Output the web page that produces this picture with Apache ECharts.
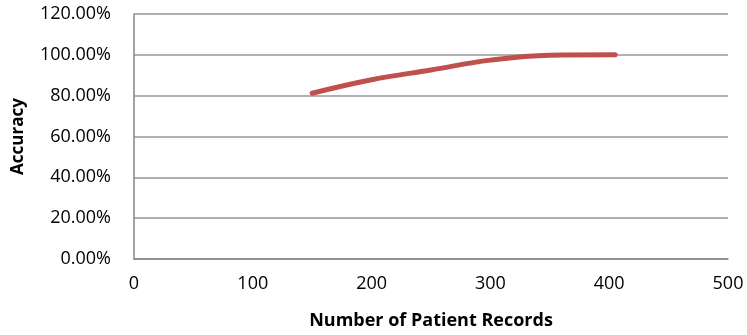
<!DOCTYPE html>
<html><head><meta charset="utf-8">
<script src="https://cdn.jsdelivr.net/npm/echarts@6/dist/echarts.min.js"></script>
<style>html,body{margin:0;padding:0;background:#fff}#c{width:747px;height:335px}</style>
</head><body><div id="c"></div>
<script>
const records = [150, 200, 250, 300, 350, 405];
const accuracy = [81.2, 87.8, 92.6, 97.4, 99.8, 100];
const xTicks = [0, 100, 200, 300, 400, 500];
const yTicks = [0, 20, 40, 60, 80, 100, 120];

const chart = echarts.init(document.getElementById('c'));
const font = 'Open Sans, Noto Sans, sans-serif';
chart.setOption({
  animation: false,
  grid: {left: 134, top: 14, right: 19, bottom: 75},
  xAxis: {
    type: 'value', min: 0, max: 500, interval: 100,
    name: 'Number of Patient Records', nameLocation: 'middle', nameGap: 53,
    nameTextStyle: {fontFamily: font, fontSize: 18, fontWeight: 'bold', color: '#000'},
    axisLine: {show: true, lineStyle: {color: '#868686', width: 1.5}},
    axisTick: {show: false},
    splitLine: {show: false},
    axisLabel: {fontFamily: font, fontSize: 18, color: '#000', margin: 16}
  },
  yAxis: {
    type: 'value', min: 0, max: 120, interval: 20,
    name: 'Accuracy', nameLocation: 'middle', nameGap: 107, nameRotate: 90,
    nameTextStyle: {fontFamily: font, fontSize: 17, fontWeight: 'bold', color: '#000'},
    axisLine: {show: true, lineStyle: {color: '#868686', width: 1.5}},
    axisTick: {show: false},
    splitLine: {show: true, lineStyle: {color: '#969696', width: 1.5}},
    axisLabel: {fontFamily: font, fontSize: 18, color: '#000', margin: 23,
      formatter: v => v.toFixed(2) + '%'}
  },
  series: [{
    type: 'line', smooth: 0.4, showSymbol: false,
    data: records.map((r, i) => [r, accuracy[i]]),
    lineStyle: {color: '#C0504D', width: 5, cap: 'round'}
  }]
});
</script></body></html>
